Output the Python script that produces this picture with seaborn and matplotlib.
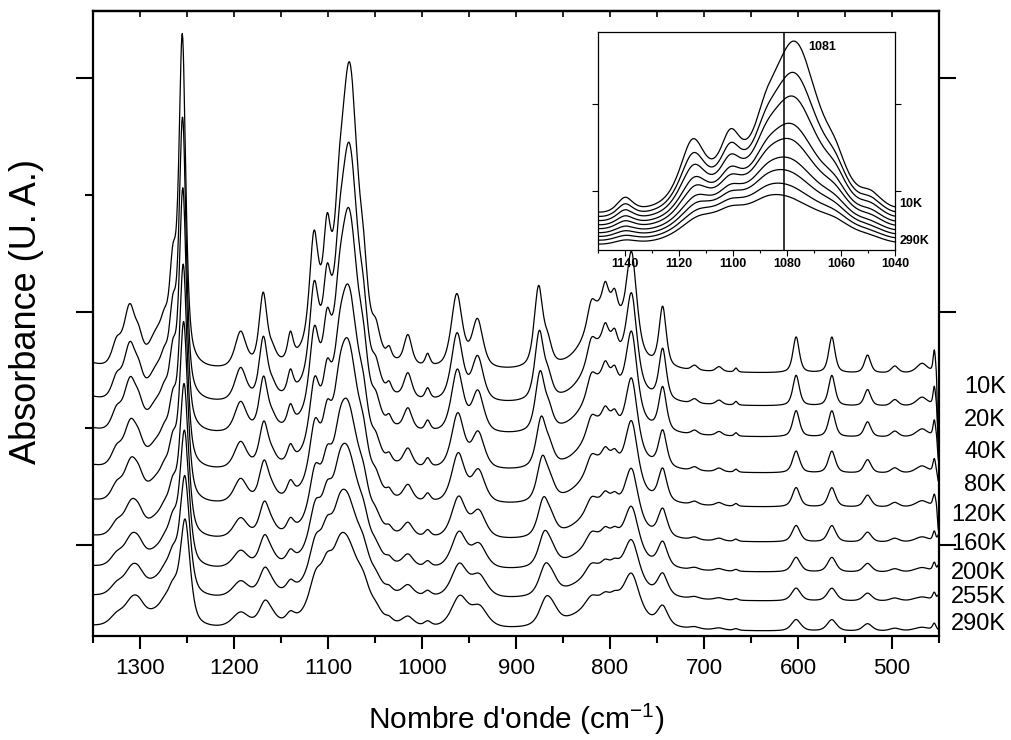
import numpy as np
import pandas as pd
import seaborn as sns
import matplotlib.pyplot as plt
from matplotlib.ticker import MultipleLocator

# spectra, one per temperature (top = 10K, bottom = 290K)
temps = ['10K', '20K', '40K', '80K', '120K', '160K', '200K', '255K', '290K']
baseline = [171, 138, 107, 71, 37, 2, -28, -57, -87]   # offset of each trace (U. A.)

# band list: position (cm-1), fwhm, height, kind, shift at 290K
peak_pos = [1365, 1325, 1311, 1301, 1282, 1274, 1265, 1255, 1193, 1169,
            1159, 1140, 1115, 1101, 1088, 1100, 1077, 1062, 1049, 1035,
            1015, 994, 963, 941, 876, 866, 805, 820, 805, 795,
            777, 744, 710, 684, 666, 602, 564, 526, 497, 468, 455]
peak_fwhm = [40, 12, 15, 10, 20, 9, 9, 8.5, 14, 10,
             10, 7, 11, 9, 10, 40, 22, 10, 10, 6,
             10, 6, 14, 14, 11, 10, 45, 10, 7, 7,
             13, 9, 8, 8, 4, 8, 8, 8, 9, 14, 3]
peak_height = [12, 22, 60, 18, 30, 22, 85, 325, 36, 72,
               12, 26, 100, 78, 45, 35, 285, 40, 22, 10,
               30, 12, 74, 48, 80, 20, 68, 22, 18, 18,
               95, 60, 5, 5, 4, 36, 36, 18, 7, 10, 22]
peak_kind = ['b', 'b', 'b', 'b', 'b', 'b', 's', 's', 'b', 's',
             'b', 's', 's', 's', 's', 'b', 'm', 'b', 'b', 'b',
             's', 'b', 'b', 'b', 's', 'b', 'b', 'b', 's', 's',
             'b', 's', 'b', 'b', 'b', 's', 's', 'b', 'b', 'b', 's']
peak_shift = [0, 0, -3, 0, 0, 0, 0, -3, 0, -2,
              0, 0, -2, 0, 0, 0, 3, 0, 0, 0,
              0, 0, -3, -2, -8, -6, 0, 0, 0, 0,
              0, 0, 0, 0, 0, 0, 0, 0, 0, 0, 0]

# how each trace differs from 10K
kind_scale = {
    's': [1, 0.85, 0.73, 0.61, 0.54, 0.46, 0.41, 0.36, 0.32],
    'b': [1, 0.92, 0.85, 0.75, 0.67, 0.56, 0.49, 0.45, 0.42],
    'm': [1, 0.835, 0.716, 0.575, 0.505, 0.418, 0.365, 0.305, 0.26],
}
width_scale = [1, 1.04, 1.08, 1.14, 1.2, 1.28, 1.36, 1.44, 1.5]
shift_frac = [0, 0.1, 0.2, 0.35, 0.5, 0.65, 0.78, 0.9, 1]
edge_dip = [-80, -40, -25, -10, -25, 6, 6, 5, 0]         # detector edge at 451 cm-1


def band(x, c, w, h, eta=0.6):
    g = np.exp(-4 * np.log(2) * ((x - c) / w) ** 2)
    l = 1 / (1 + 4 * ((x - c) / w) ** 2)
    return h * ((1 - eta) * g + eta * l)


wn = np.linspace(450, 1350, 1801)
frames = []
for i, t in enumerate(temps):
    a = np.full_like(wn, float(baseline[i]))
    for c, w, h, k, s in zip(peak_pos, peak_fwhm, peak_height, peak_kind, peak_shift):
        a += band(wn, c + s * shift_frac[i], w * width_scale[i], h * kind_scale[k][i])
    a += band(wn, 450.5, 2.5, edge_dip[i], eta=0)
    frames.append(pd.DataFrame({'wn': wn, 'abs': a, 'rel': a - baseline[i], 'temp': t}))
df = pd.concat(frames, ignore_index=True)

sns.set_style('ticks', rc={'axes.edgecolor': 'black', 'text.color': 'black',
                           'axes.labelcolor': 'black', 'xtick.color': 'black',
                           'ytick.color': 'black'})
plt.rcParams['font.family'] = ['Liberation Sans', 'DejaVu Sans']
plt.rcParams['mathtext.default'] = 'regular'

fig = plt.figure(figsize=(10.11, 7.40), dpi=100)
ax = fig.add_axes([0.092, 0.1405, 0.8368, 0.8446])
sns.lineplot(data=df, x='wn', y='abs', hue='temp', palette=['black'] * 9,
             legend=False, lw=0.9, estimator=None, sort=False, ax=ax)
ax.set_xlim(1350, 450)
ax.set_ylim(-91, 534)
ax.xaxis.set_major_locator(MultipleLocator(100))
ax.xaxis.set_minor_locator(MultipleLocator(50))
ax.yaxis.set_major_locator(MultipleLocator(233.5))
ax.yaxis.set_minor_locator(MultipleLocator(116.75))
ax.set_yticklabels([])
ax.tick_params(axis='x', which='major', direction='out', length=9, width=1.5, labelsize=16, pad=7)
ax.tick_params(axis='x', which='minor', direction='out', length=5, width=1.5)
ax.tick_params(axis='y', which='major', direction='out', length=12, width=1.5, right=True)
ax.tick_params(axis='y', which='minor', direction='out', length=6, width=1.5)
top = ax.secondary_xaxis('top')
top.xaxis.set_major_locator(MultipleLocator(50))
top.tick_params(direction='in', length=4, width=1.2, labeltop=False)
for sp in list(ax.spines.values()) + list(top.spines.values()):
    sp.set_linewidth(1.6)
ax.set_xlabel("Nombre d'onde (cm$^{-1}$)", fontsize=21.5)
ax.set_ylabel('Absorbance (U. A.)', fontsize=26)
ax.xaxis.set_label_coords(0.5, -0.105)
ax.yaxis.set_label_coords(-0.058, 0.52)

label_y = [158, 125, 93, 60, 30, 1, -28, -52, -79]
for t, yl in zip(temps, label_y):
    ax.text(1.0792, yl, t, transform=ax.get_yaxis_transform(), ha='right', va='center', fontsize=17)

# inset: zoom on the 1081 cm-1 band
inset_base = [0, -6.5, -13, -19.5, -26, -32.5, -39, -45.5, -52]
sub = df[(df['wn'] >= 1040) & (df['wn'] <= 1150)].copy()
sub['ins'] = sub['rel'] + sub['temp'].map(dict(zip(temps, inset_base)))
axi = fig.add_axes([0.5915, 0.6622, 0.2938, 0.2946])
sns.lineplot(data=sub, x='wn', y='ins', hue='temp', palette=['black'] * 9,
             legend=False, lw=0.9, estimator=None, sort=False, ax=axi)
axi.axvline(1081, color='black', lw=1.1)
axi.set_xlim(1150, 1040)
axi.set_ylim(-48, 328)
axi.set_yticks([53, 203])
axi.set_yticklabels([])
axi.xaxis.set_major_locator(MultipleLocator(20))
axi.xaxis.set_minor_locator(MultipleLocator(10))
axi.tick_params(axis='x', which='major', direction='out', length=4, width=0.8, labelsize=9, pad=2)
axi.tick_params(axis='x', which='minor', direction='out', length=2, width=0.8)
axi.tick_params(axis='y', direction='out', length=4, width=0.8, right=True)
for lab in axi.get_xticklabels():
    lab.set_fontweight('bold')
for sp in axi.spines.values():
    sp.set_linewidth(0.9)
axi.set_xlabel('')
axi.set_ylabel('')
axi.text(1072, 302, '1081', fontsize=9, fontweight='bold', va='center')
axi.text(1.015, 0.21, '10K', transform=axi.transAxes, fontsize=9, fontweight='bold', va='center')
axi.text(1.015, 0.04, '290K', transform=axi.transAxes, fontsize=9, fontweight='bold', va='center')

fig.savefig('out.png', dpi=100)
